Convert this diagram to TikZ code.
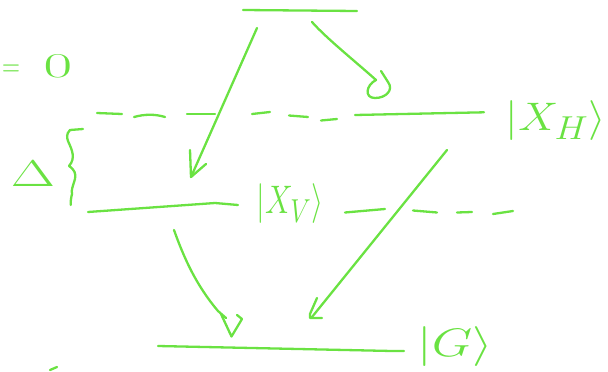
\documentclass[tikz,border=0pt]{standalone}
\usepackage{graphicx}
\definecolor{lg}{RGB}{106,226,66}
\begin{document}
\begin{tikzpicture}[x=1pt,y=-1pt,
  stroke/.style={draw=lg, line width=2.3pt, line cap=round, line join=round},
  lbl/.style={text=lg, inner sep=0pt, font=\Huge}]
\useasboundingbox (0,0) rectangle (608,372);
% top level
\draw[stroke] (243,10) -- (357,11);
% arrow 1 (top to V)
\draw[stroke] (257,28) -- (191,177);
\draw[stroke] (190,150) -- (191,177) -- (206,164);
% arrow 2 (top to H), curly
\draw[stroke] (312,22) .. controls (326,38) and (356,62) .. (376,80)
  .. controls (366,85) and (364,98) .. (375,98)
  .. controls (386,98) and (394,90) .. (388,82) -- (381,71);
% dashed level H
\draw[stroke] (97,113) -- (122,114);
\draw[stroke] (134,117) .. controls (145,114) and (155,114) .. (165,117);
\draw[stroke] (187,114) -- (215,114);
\draw[stroke] (252,114) -- (270,112);
\draw[stroke] (289,115.5) -- (308,117);
\draw[stroke] (321,120.5) -- (337,119);
\draw[stroke] (355,115) -- (484,112.3);
\node[lbl] (xh) at (556,121) {\scalebox{1.8}[1.6]{$|X_H\rangle$}};
% level V
\draw[stroke] (88,212) -- (215,203) -- (238,205);
\node[lbl] (xv) at (290,204) {\scalebox{1.25}[1.6]{$|X_V\rangle$}};
\draw[stroke] (345,212.5) -- (385,209);
\draw[stroke] (413,210.5) -- (437,212.5);
\draw[stroke] (457,212.5) -- (472,212);
\draw[stroke] (493,214) -- (513,211);
% arrow 3 (H to G)
\draw[stroke] (447,150) -- (312,317);
\draw[stroke] (317,298) -- (310,314) -- (310,318) -- (322,318);
% arrow 4 (V to G)
\draw[stroke] (174,230) .. controls (184,258) and (196,285) .. (218,311) -- (226,318);
\draw[stroke] (221,314) -- (231.5,336.5) -- (242,319) -- (237,315);
% ground level
\draw[stroke] (158,346) -- (392,351) -- (404,351);
\node[lbl] (g) at (455,347) {\scalebox{2.1}[1.6]{$|G\rangle$}};
% left annotations
\node[lbl] (eq) at (11,71) {\scalebox{1.0}[1.3]{$=$}};
\node[lbl] (zero) at (58,66) {\scalebox{2.5}[1.4]{$0$}};
\node[lbl] (delta) at (33,174) {\scalebox{2.3}[1.5]{$\Delta$}};
\draw[stroke] (83,129) -- (70,130) .. controls (66,134) and (67,138) .. (68,141)
  .. controls (72,150) and (76,158) .. (69,166)
  .. controls (75,170) and (76,174) .. (75,179)
  .. controls (73,186) and (71,190) .. (72,194)
  .. controls (71,198) and (70.5,202) .. (70.7,205);
% small stray mark
\draw[stroke] (50,370) -- (57,367);
\end{tikzpicture}
\end{document}
